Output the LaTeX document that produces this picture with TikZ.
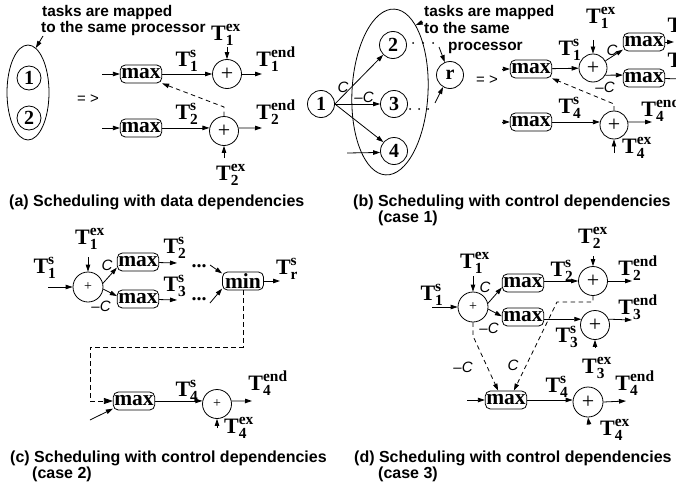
\documentclass[tikz,border=0pt]{standalone}
\usepackage{fontspec}
\usepackage{amsmath}
\setmainfont{Liberation Serif}
\newfontfamily\sansfam{Liberation Sans}
\usetikzlibrary{arrows.meta,shapes.geometric}

% bold time label: T with subscript #1 and superscript #2
\newcommand\Tl[2]{$\textbf{T}^{\textbf{#2}}_{\textbf{#1}}$}

\tikzset{
  ln/.style={line width=0.8pt},
  arr/.style={ln, -{Triangle[length=7pt,width=4.5pt]}},
  dsh/.style={arr, dash pattern=on 4.5pt off 3.5pt},
  ell/.style={ellipse, draw, ln, inner sep=0pt},
  circ/.style={circle, draw, ln, inner sep=0pt, minimum size=29pt,
    font=\fontsize{20}{22}\selectfont\bfseries},
  smallcirc/.style={circ, minimum size=27pt},
  plus/.style={circle, draw, ln, inner sep=0pt, minimum size=29pt,
    font=\fontsize{22}{24}\selectfont},
  splus/.style={plus, font=\fontsize{14}{15}\selectfont},
  mbox/.style={draw, ln, rounded corners=5pt, inner xsep=1pt, inner ysep=0pt,
    minimum height=18pt, minimum width=41pt,
    font=\fontsize{21.5}{23}\selectfont\bfseries},
  tlab/.style={inner sep=0pt, font=\fontsize{22}{24}\selectfont},
  ctl/.style={inner sep=0pt, font=\fontsize{15}{16}\sansfam\itshape},
  note/.style={inner sep=0pt, anchor=base west, font=\fontsize{15.4}{16}\sansfam\bfseries},
  capt/.style={inner sep=0pt, anchor=base west, font=\fontsize{16}{17}\sansfam\bfseries},
  impl/.style={inner sep=0pt, font=\fontsize{15}{16}\sansfam},
  ddots/.style={inner sep=0pt, font=\fontsize{20}{22}\selectfont\bfseries},
  sdot/.style={circle, fill, inner sep=0pt, minimum size=2pt},
}

\begin{document}
\begin{tikzpicture}[x=1pt, y=-1pt]
\useasboundingbox (0,0) rectangle (676,487);
\clip (0,0) rectangle (676,487);

% ---------------- (a) data dependencies ----------------
\node[ell, minimum width=42pt, minimum height=95pt] (ea) at (28,92.5) {};
\node[circ, minimum size=24pt] (a1) at (29,78) {1};
\node[circ, minimum size=24pt] (a2) at (29,118) {2};
\node[note] (na1) at (42,17) {tasks are mapped};
\node[note] (na2) at (41,33) {to the same processor};
\coordinate (nap) at (43,36);
\draw[arr] (nap) -- (ea.80);
\node[impl] (ia) at (88,99) {= >};

\node[mbox] (am1) at (141,74) {max};
\node[mbox] (am2) at (141,128) {max};
\node[plus] (ap1) at (227,74) {+};
\node[plus] (ap2) at (224,131) {+};
\coordinate (ai1) at (102,74);
\coordinate (ai2) at (102,128);
\draw[arr] (ai1) -- (am1);
\draw[arr] (ai2) -- (am2);
\draw[arr] (am1) -- (ap1);
\draw[arr] (am2.east |- ap2.168) -- (ap2.168);
\node[tlab] (aT1s) at (187,61) {\Tl{1}{s}};
\node[tlab] (aT2s) at (187,114) {\Tl{2}{s}};
\node[tlab] (aT1x) at (226,35) {\Tl{1}{ex}};
\node[tlab] (aT2x) at (231,175) {\Tl{2}{ex}};
\node[tlab] (aT1e) at (276,59) {\Tl{1}{end}};
\node[tlab] (aT2e) at (276,112) {\Tl{2}{end}};
\coordinate (ax1) at (227,47);
\coordinate (ax2) at (224,158);
\draw[arr] (ax1) -- (ap1.north);
\draw[arr] (ax2) -- (ap2.south);
\coordinate (ao1) at (262,74);
\coordinate (ao2) at (262,128);
\draw[arr] (ap1) -- (ao1);
\draw[arr] (ap2.12) -- (ao2);
\coordinate (ad) at (224,107);
\draw[dsh] (ap2.north) -- (ad) -- (am1.south east);

\node[capt] (capa) at (9,206) {(a) Scheduling with data dependencies};

% ---------------- (b) control dependencies, case 1 ----------------
\node[ell, minimum width=76pt, minimum height=166pt, rotate=-3] (eb) at (390,92) {};
\node[smallcirc] (b1) at (321,104) {1};
\node[smallcirc] (b2) at (393,45) {2};
\node[smallcirc] (b3) at (394,104) {3};
\node[smallcirc] (b4) at (394,151) {4};
\node[smallcirc] (br) at (450,75) {r};
\draw[arr] (b1.east) -- (b2.225);
\draw[arr] (b1.east) -- (b3.west);
\draw[arr] (b1.east) -- (b4.140);
\node[ctl] (bc) at (343,87) {C};
\node[ctl] (bmc) at (364,97) {–C};
\coordinate (bi4) at (347,153);
\draw[arr] (bi4) -- (b4.186);
\node[sdot] (bd21) at (413,43) {};
\node[sdot] (bd22) at (423,43) {};
\node[sdot] (bd23) at (433,43) {};
\node[sdot] (bd31) at (410,109) {};
\node[sdot] (bd32) at (419,109) {};
\node[sdot] (bd33) at (428,109) {};
\coordinate (brs2) at (439,47);
\coordinate (brs3) at (435,103);
\draw[arr] (brs2) -- (br.112);
\draw[arr] (brs3) -- (br.240);
\node[note] (nb1) at (424,17) {tasks are mapped};
\node[note] (nb2) at (424,34) {to the same};
\node[note] (nb3) at (448,50) {processor};
\coordinate (nbp) at (423,22);
\draw[arr] (nbp) -- (eb.72);
\node[impl] (ib) at (487,80) {= >};

\node[mbox] (bm1) at (531,69) {max};
\node[mbox] (bm2) at (644,42) {max};
\node[mbox] (bm3) at (644,78) {max};
\node[mbox] (bm4) at (531,122) {max};
\node[plus, minimum size=28pt] (bp1) at (593,68) {+};
\node[plus, minimum size=28pt] (bp4) at (614,125) {+};
\coordinate (bi1) at (502,69);
\coordinate (bi2) at (502,122);
\draw[arr] (bi1) -- (bm1);
\draw[arr] (bi2) -- (bm4);
\draw[arr] (bm1) -- (bp1);
\draw[arr] (bm4.east |- bp4.168) -- (bp4.168);
\draw[arr] (bp1.30) -- (bm2.200);
\draw[arr] (bp1.-30) -- (bm3.172);
\node[ctl] (bc2) at (612,50) {C};
\node[ctl] (bmc2) at (605,87) {–C};
\coordinate (bo2) at (674,42);
\coordinate (bo3) at (684,79);
\draw[arr] (bm2) -- (bo2);
\draw[arr] (bm3) -- (bo3);
\node[tlab] (bT2s) at (679,27) {\Tl{2}{s}};
\node[tlab] (bT3s) at (679,62) {\Tl{3}{s}};
\node[tlab] (bT1s) at (570,50) {\Tl{1}{s}};
\node[tlab] (bT1x) at (601,18) {\Tl{1}{ex}};
\coordinate (bx1) at (593,40);
\draw[arr] (bx1) -- (bp1.north);
\node[tlab] (bT4s) at (570,108) {\Tl{4}{s}};
\node[tlab] (bT4e) at (661,109) {\Tl{4}{end}};
\node[tlab] (bT4x) at (637,148) {\Tl{4}{ex}};
\coordinate (bo4) at (652,122);
\draw[arr] (bp4.12) -- (bo4);
\coordinate (bx4) at (614,153);
\draw[arr] (bx4) -- (bp4.south);
\coordinate (bdd) at (614,104);
\draw[dsh] (bp4.north) -- (bdd) -- (bm1.south east);

\node[capt] (capb) at (353,206) {(b) Scheduling with control dependencies};
\node[capt] (capb2) at (378,222) {(case 1)};

% ---------------- (c) control dependencies, case 2 ----------------
\node[splus, minimum size=30pt] (cp1) at (88,287) {+};
\node[tlab] (cT1s) at (45,268) {\Tl{1}{s}};
\node[tlab] (cT1x) at (90,239) {\Tl{1}{ex}};
\coordinate (ci1) at (48,287);
\coordinate (cx1) at (88,257);
\draw[arr] (ci1) -- (cp1.west);
\draw[arr] (cx1) -- (cp1.north);
\node[mbox] (cm1) at (138,262) {max};
\node[mbox] (cm2) at (138,299) {max};
\draw[arr] (cp1.14) -- (cm1.195);
\draw[arr] (cp1.-8) -- (cm2.172);
\node[ctl] (cc) at (107,265) {C};
\node[ctl] (cmc) at (101,306) {–C};
\coordinate (co1) at (177,263);
\coordinate (co2) at (177,300);
\draw[arr] (cm1) -- (co1);
\draw[arr] (cm2) -- (co2);
\node[tlab] (cT2s) at (175,248) {\Tl{2}{s}};
\node[tlab] (cT3s) at (175,286) {\Tl{3}{s}};
\node[ddots] (cd1) at (199,266) {...};
\node[ddots] (cd2) at (199,299) {...};
\node[mbox] (cmin) at (243,281) {min};
\coordinate (cs1) at (210,265);
\coordinate (cs2) at (210,303);
\draw[arr] (cs1) -- (cmin.160);
\draw[arr] (cs2) -- (cmin.200);
\coordinate (cor) at (280,281);
\draw[arr] (cmin) -- (cor);
\node[tlab] (cTr) at (287,269) {\Tl{r}{s}};
\node[mbox] (cm3) at (134,401) {max};
\coordinate (cdd1) at (243,347);
\coordinate (cdd2) at (90,347);
\coordinate (cdd3) at (90,401);
\draw[ln, dash pattern=on 4.5pt off 3.5pt, -{Triangle[length=9pt,width=6pt]}]
  (cmin.south) -- (cdd1) -- (cdd2) -- (cdd3) -- (cm3.west);
\coordinate (ci3) at (90,420);
\draw[arr] (ci3) -- (cm3.200);
\node[splus] (cp3) at (217,404) {+};
\draw[arr] (cm3.east |- cp3.168) -- (cp3.168);
\node[tlab] (cT4s) at (187,391) {\Tl{4}{s}};
\node[tlab] (cT4e) at (268,383) {\Tl{4}{end}};
\node[tlab] (cT4x) at (239,428) {\Tl{4}{ex}};
\coordinate (co3) at (252,401);
\draw[arr] (cp3.12) -- (co3);
\coordinate (cx3) at (217,428);
\draw[arr] (cx3) -- (cp3.south);

\node[capt] (capc) at (10,462) {(c) Scheduling with control dependencies};
\node[capt] (capc2) at (32,478) {(case 2)};

% ---------------- (d) control dependencies, case 3 ----------------
\node[splus, minimum size=30pt] (dp1) at (473,307) {+};
\node[tlab] (dT1s) at (432,295) {\Tl{1}{s}};
\node[tlab] (dT1x) at (475,263) {\Tl{1}{ex}};
\coordinate (di1) at (432,307);
\coordinate (dx1) at (473,276);
\draw[arr] (di1) -- (dp1.west);
\draw[arr] (dx1) -- (dp1.north);
\node[mbox] (dm1) at (523,283) {max};
\node[mbox] (dm2) at (523,317) {max};
\draw[arr] (dp1.14) -- (dm1.192);
\draw[arr] (dp1.-8) -- (dm2.178);
\node[ctl] (dc) at (485,287) {C};
\node[ctl] (dmc) at (489,328) {–C};
\node[plus] (dp2) at (593,281) {+};
\node[plus] (dp3) at (595,325) {+};
\draw[arr] (dm1.east |- dp2.west) -- (dp2.west);
\draw[arr] (dm2.east |- dp3.157) -- (dp3.157);
\node[tlab] (dT2s) at (562,271) {\Tl{2}{s}};
\node[tlab] (dT2x) at (593,238) {\Tl{2}{ex}};
\node[tlab] (dT2e) at (638,268) {\Tl{2}{end}};
\node[tlab] (dT3s) at (567,337) {\Tl{3}{s}};
\node[tlab] (dT3e) at (638,307) {\Tl{3}{end}};
\node[tlab] (dT3x) at (597,368) {\Tl{3}{ex}};
\coordinate (dx2) at (593,256);
\draw[arr] (dx2) -- (dp2.north);
\coordinate (do2) at (632,281);
\draw[arr] (dp2.east) -- (do2);
\coordinate (do3) at (632,320);
\draw[arr] (dp3.23) -- (do3);
\coordinate (dx3) at (595,347);
\draw[arr] (dx3) -- (dp3.south);

\node[mbox] (dm3) at (506,400) {max};
\coordinate (di3) at (467,400);
\draw[arr] (di3) -- (dm3.west);
\node[plus, minimum size=30pt] (dp4) at (588,402) {+};
\draw[arr] (dm3.east) -- (dm3.east -| dp4.west);
\node[tlab] (dT4s) at (557,387) {\Tl{4}{s}};
\node[tlab] (dT4e) at (635,383) {\Tl{4}{end}};
\node[tlab] (dT4x) at (615,430) {\Tl{4}{ex}};
\coordinate (do4) at (626,401);
\draw[arr] (dp4.east) -- (do4);
\coordinate (dx4) at (589,425);
\draw[arr] (dx4) -- (dp4.south);

\coordinate (dd1) at (593,302);
\coordinate (dd2) at (557,302);
\draw[dsh] (dp2.south) -- (dd1) -- (dd2) -- (dm3.50);
\coordinate (dd3) at (473,336);
\draw[dsh] (dp1.south) -- (dd3) -- (dm3.130);
\node[ctl] (dcc) at (513,365) {C};
\node[ctl] (dcmc) at (463,367) {–C};

\node[capt] (capd) at (354,462) {(d) Scheduling with control dependencies};
\node[capt] (capd2) at (378,478) {(case 3)};
\end{tikzpicture}
\end{document}
